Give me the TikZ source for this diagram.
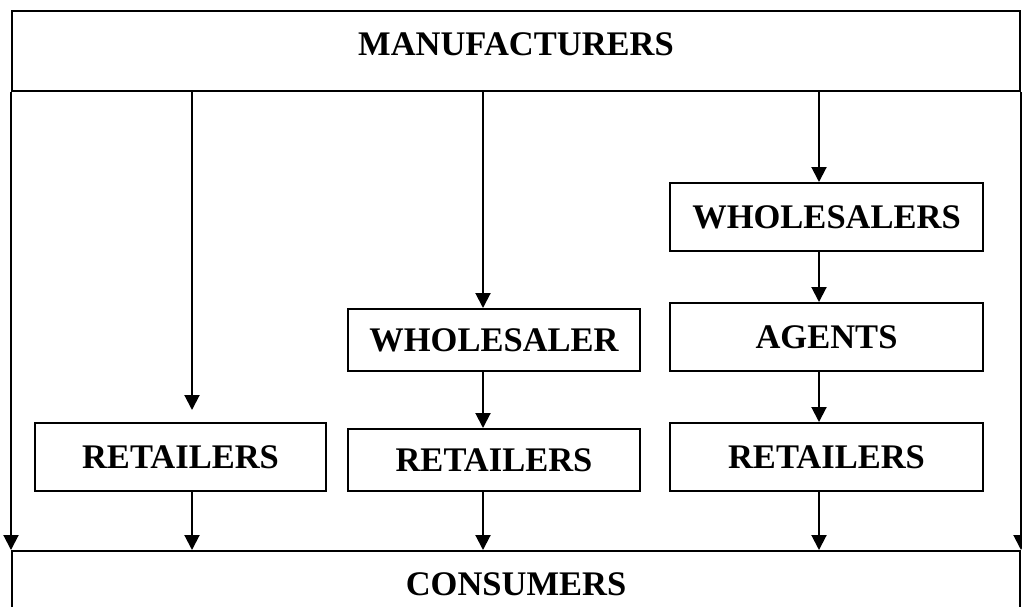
\documentclass[tikz,border=0pt]{standalone}
\usepackage{fontspec}
\setmainfont{Liberation Serif}
\usetikzlibrary{arrows.meta}
\begin{document}
\begin{tikzpicture}[x=1pt,y=-1pt,
		box/.style={draw,line width=2pt,inner sep=0pt,font=\fontsize{34.5}{40}\selectfont\bfseries},
		wide/.style={box,minimum width=1008pt,minimum height=80pt,text height=23pt,text depth=15pt},
		arr/.style={line width=2pt,-{Triangle[width=15pt,length=15pt]}}]
	\useasboundingbox (0,0) rectangle (1022,606);
	
	\node[wide] (mfr) at (516,51) {MANUFACTURERS};
	\node[wide] (cons) at (516,591) {CONSUMERS};
	
	\node[box,minimum width=291pt,minimum height=68pt] (ret1) at (180.5,457) {RETAILERS};
	\node[box,minimum width=292pt,minimum height=62pt] (whs2) at (494,340) {WHOLESALER};
	\node[box,minimum width=292pt,minimum height=62pt] (ret2) at (494,460) {RETAILERS};
	\node[box,minimum width=313pt,minimum height=68pt] (whs3) at (826.5,217) {WHOLESALERS};
	\node[box,minimum width=313pt,minimum height=68pt] (agt3) at (826.5,337) {AGENTS};
	\node[box,minimum width=313pt,minimum height=68pt] (ret3) at (826.5,457) {RETAILERS};
	
	\coordinate (c1) at (192,0);
	\coordinate (c2) at (483,0);
	\coordinate (c3) at (819,0);
	\coordinate (stop1) at (192,410);
	
	% outer sides
	\draw[arr] (mfr.south west) -- (cons.north west);
	\draw[arr] (mfr.south east) -- (cons.north east);
	
	\draw[arr] (c1 |- mfr.south) -- (stop1);
	\draw[arr] (c1 |- ret1.south) -- (c1 |- cons.north);
	
	\draw[arr] (c2 |- mfr.south) -- (c2 |- whs2.north);
	\draw[arr] (c2 |- whs2.south) -- (c2 |- ret2.north);
	\draw[arr] (c2 |- ret2.south) -- (c2 |- cons.north);
	
	\foreach \a/\b in {mfr/whs3,whs3/agt3,agt3/ret3,ret3/cons}
		\draw[arr] (c3 |- \a.south) -- (c3 |- \b.north);
\end{tikzpicture}
\end{document}
